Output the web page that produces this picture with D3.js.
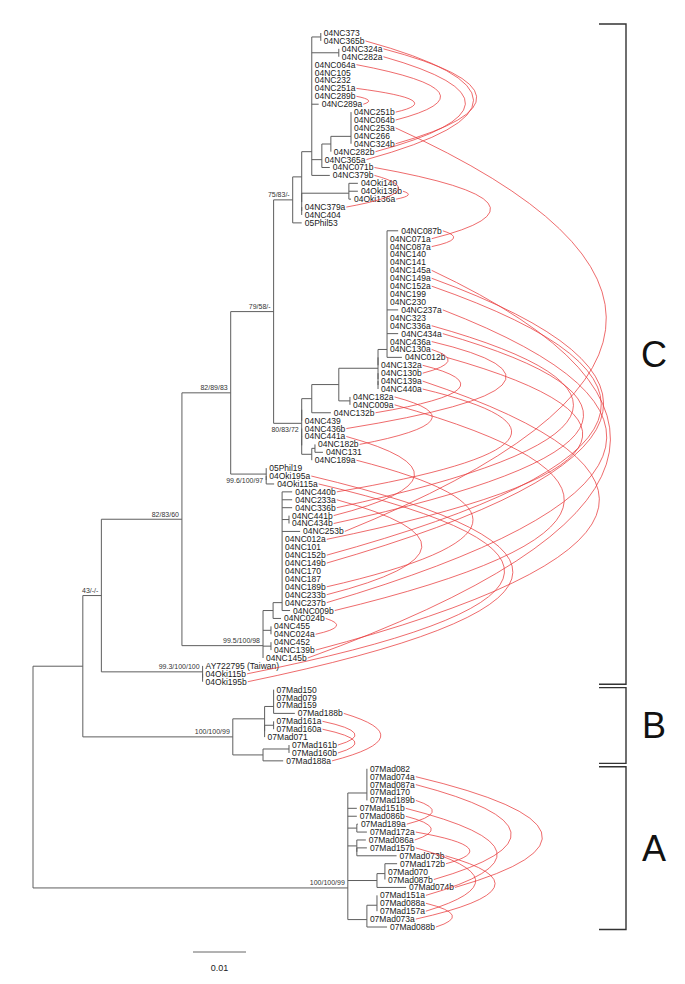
<!DOCTYPE html>
<html><head><meta charset="utf-8">
<script src="https://cdn.jsdelivr.net/npm/d3@7"></script>
<style>html,body{margin:0;padding:0;background:#fff}</style>
</head><body>
<svg id="c" width="685" height="984"></svg>
<script>
// ---------------- DATA ----------------
// Subtrees in Newick form (branch lengths in substitutions/site; internal labels = support values)
const cladeN17 = "(04NC087b:0.0021,04NC071a:0,04NC087a:0,04NC140:0,04NC141:0,04NC145a:0,04NC149a:0,04NC152a:0,04NC199:0,04NC230:0,04NC237a:0.0021,04NC323:0,04NC336a:0,04NC434a:0.0021,04NC436a:0,04NC130a:0,04NC012b:0.0028)";
const cladeN14 = "((" + cladeN17 + ":0.0017,04NC132a:0):0,(04NC130b:0,(04NC139a:0,04NC440a:0):0):0)";
const cladeN12 = "((" + cladeN14 + ":0.0074,(04NC182a:0,04NC009a:0):0.0021):0.0051,04NC132b:0.0036)";
const cladeN15 = "((04NC182b:0,04NC131:0.0015):0.0006,04NC189a:0)";
const cladeN9  = "((" + cladeN12 + ":0.0019,04NC439:0):0,(04NC436b:0,(04NC441a:0," + cladeN15 + ":0.0019):0):0)'80/83/72'";
const cladeQ   = "((04NC251b:0,04NC064b:0,04NC253a:0,04NC266:0,04NC324b:0):0.0038,04NC282b:0)";
const cladeR   = "(" + cladeQ + ":0.0017,04NC365a:0,04NC071b:0.0015)";
const cladeN11 = "((04NC373:0,04NC365b:0):0.0017,(04NC324a:0,04NC282a:0):0.0051,04NC064a:0,04NC105:0,04NC232:0,04NC251a:0,04NC289b:0,04NC289a:0.0013," + cladeR + ":0.0019,04NC379b:0.0034)";
const cladeOki = "(04Oki140:0.0017,04Oki136b:0.0017,04Oki136a:0.0004)";
const cladeN10 = "(" + cladeN11 + ":0.0019,(" + cladeOki + ":0.0089,(04NC379a:0,04NC404:0):0):0)";
const cladeN8  = "(" + cladeN10 + ":0.0017,05Phil53:0.0017)'75/83/-'";
const cladeN6  = "(" + cladeN8 + ":0.0036," + cladeN9 + ":0.0053)'79/58/-'";
const cladeN7  = "(05Phil19:0,(04Oki195a:0,04Oki115a:0.0015):0)'99.6/100/97'";
const cladeN19 = "(04NC440b:0.0019,04NC233a:0.0019,04NC336b:0.0019,(04NC441b:0,04NC434b:0):0.0013,04NC253b:0.0034,04NC012a:0,04NC101:0,04NC152b:0,04NC149b:0,04NC170:0,04NC187:0,04NC189b:0,04NC233b:0,04NC237b:0,04NC009b:0.0015)";
const cladeN5  = "((" + cladeN19 + ":0.0017,04NC024b:0.0015):0.0019,(04NC455:0,04NC024a:0):0.0015,(04NC452:0,04NC139b:0):0.0015,04NC145b:0)'99.5/100/98'";
const cladeN4  = "(" + cladeN6 + ":0.0081," + cladeN7 + ":0.0067)'82/89/83'";
const cladeN3  = "(" + cladeN4 + ":0.0092," + cladeN5 + ":0.0153)'82/83/60'";
const cladeTW  = "('AY722795 (Taiwan)':0,(04Oki115b:0,04Oki195b:0):0)'99.3/100/100'";
const cladeN2  = "(" + cladeN3 + ":0.0152," + cladeTW + ":0.0191)'43/-/-'";
const cladeB   = "(((07Mad150:0,07Mad079:0,07Mad159:0,07Mad188b:0.004):0.0017,((07Mad161a:0,07Mad160a:0):0.0017,07Mad071:0):0):0.006,((07Mad161b:0,07Mad160b:0):0.0049,07Mad188a:0.0038):0.0057)'100/100/99'";
const cladeA   = "((07Mad082:0,07Mad074a:0,07Mad087a:0,07Mad170:0,07Mad189b:0):0.0036,07Mad151b:0.0017,07Mad086b:0.0017,(07Mad189a:0.0002,07Mad172a:0.0019):0.0017,(07Mad086a:0.0017,(07Mad157b:0.0019,07Mad073b:0.0075):0):0.0017,((07Mad172b:0.0023,07Mad070:0,07Mad087b:0):0.0015,07Mad074b:0.0055):0.0055,((07Mad151a:0,07Mad088a:0,07Mad157a:0):0.0019,07Mad073a:0,07Mad088b:0.0038):0.0036)'100/100/99'";
const treeNewick = "((" + cladeN2 + ":0.0035," + cladeB + ":0.0283):0.0094," + cladeA + ":0.0594);";

const supportBelow = ["80/83/72", "99.6/100/97"];
const cladeGroups = [
  {name: "C", first: "04NC373", last: "04Oki195b"},
  {name: "B", first: "07Mad150", last: "07Mad188a"},
  {name: "A", first: "07Mad082", last: "07Mad088b"}
];
const scaleBarValue = 0.01;
const scaleBarLabel = "0.01";

// ---------------- PARSER ----------------
function parseNewick(s) {
  let i = 0;
  function readLabel() {
    if (s[i] === "'") { const j = s.indexOf("'", i + 1); const t = s.slice(i + 1, j); i = j + 1; return t; }
    let j = i; while (j < s.length && !",():;".includes(s[j])) j++;
    const t = s.slice(i, j); i = j; return t;
  }
  function node() {
    const n = {name: "", length: 0, children: []};
    if (s[i] === "(") {
      i++; n.children.push(node());
      while (s[i] === ",") { i++; n.children.push(node()); }
      i++;
    }
    n.name = readLabel();
    if (s[i] === ":") { i++; let j = i; while (j < s.length && !",();".includes(s[j])) j++; n.length = +s.slice(i, j); i = j; }
    return n;
  }
  return node();
}

// ---------------- LAYOUT ----------------
const svg = d3.select("#c");
const root = d3.hierarchy(parseNewick(treeNewick), d => d.children.length ? d.children : null);
const x = d3.scaleLinear().domain([0, scaleBarValue]).range([33, 86]);
root.each(n => { n.len = n.parent ? n.parent.len + n.data.length : 0; n.px = x(n.len); });
const leaves = root.leaves();
const y = d3.scaleLinear().domain([0, leaves.length - 1]).range([33, 927]);
leaves.forEach((l, i) => l.py = y(i));
root.eachAfter(n => {
  if (n.children) {
    let v = n.children[0].py;
    for (let k = 1; k < n.children.length; k++) v = (v + n.children[k].py) / 2;
    n.py = v;
  }
});

// ---------------- BRANCHES ----------------
const gb = svg.append("g").attr("stroke", "#5e5e5e").attr("stroke-width", 1).attr("fill", "none");
root.descendants().forEach(n => {
  if (n.children) {
    const ys = n.children.map(c => c.py);
    const y0 = d3.min(ys), y1 = d3.max(ys);
    if (y1 - y0 > 0.1) gb.append("line").attr("x1", n.px).attr("x2", n.px).attr("y1", y0).attr("y2", y1);
  }
  if (n.parent && n.px - n.parent.px > 0.5) {
    gb.append("line").attr("x1", n.parent.px).attr("x2", n.px).attr("y1", n.py).attr("y2", n.py);
  }
});

// ---------------- SUPPORT LABELS ----------------
const gs = svg.append("g").attr("font-family", "'Liberation Sans', Arial, sans-serif").attr("font-size", 7).attr("fill", "#333").attr("text-anchor", "end");
root.descendants().filter(n => n.children && n.data.name).forEach(n => {
  const below = supportBelow.includes(n.data.name);
  gs.append("text").attr("x", n.px - 3).attr("y", below ? n.py + 8.5 : n.py - 2.5).text(n.data.name);
});

// ---------------- LEAF LABELS ----------------
const gl = svg.append("g").attr("font-family", "'Liberation Sans', Arial, sans-serif").attr("font-size", 8.5).attr("fill", "#1a1a1a");
leaves.forEach(l => {
  const t = gl.append("text").attr("x", l.px + 3).attr("y", l.py).attr("dy", "0.35em").text(l.data.name);
  l.textEnd = l.px + 3 + t.node().getComputedTextLength();
});

// ---------------- HAPLOTYPE LINKS (a/b of the same individual) ----------------
const byName = new Map(leaves.map(l => [l.data.name, l]));
const pairs = [];
leaves.forEach(l => {
  const m = l.data.name.match(/^(.*)a$/);
  if (m && byName.has(m[1] + "b")) pairs.push([l, byName.get(m[1] + "b")]);
});
const reachLimit = 607;
const gc = svg.append("g").attr("stroke", "#e8393b").attr("stroke-width", 0.75).attr("fill", "none");
pairs.forEach(([a, b]) => {
  const x1 = a.textEnd + 1, y1 = a.py, x2 = b.textEnd + 1, y2 = b.py;
  const gap = Math.abs(y2 - y1), xm = Math.max(x1, x2);
  const raw = 0.6 * gap * (1 + gap / 120);
  const room = reachLimit - xm;
  const tip = xm + room * (1 - Math.exp(-raw / room));
  const cx = 2 * tip - (x1 + x2) / 2, cy = (y1 + y2) / 2;
  const p = d3.path(); p.moveTo(x1, y1); p.quadraticCurveTo(cx, cy, x2, y2);
  gc.append("path").attr("d", p.toString());
});

// ---------------- CLADE BRACKETS ----------------
const gk = svg.append("g");
cladeGroups.forEach((c, i) => {
  const top = byName.get(c.first).py - (i === 0 ? 9 : 2);
  const bot = byName.get(c.last).py + 2.5;
  const bx = 626, tx = 599;
  gk.append("path").attr("d", `M${tx},${top}H${bx}V${bot}H${tx}`).attr("fill", "none").attr("stroke", "#333").attr("stroke-width", 1.4);
  gk.append("text").attr("x", 654).attr("y", (top + bot) / 2).attr("dy", "0.36em").attr("text-anchor", "middle")
    .attr("font-family", "'Liberation Sans', Arial, sans-serif").attr("font-size", 36).attr("fill", "#111").text(c.name);
});

// ---------------- SCALE BAR ----------------
const sbx = 193, sby = 952;
svg.append("line").attr("x1", sbx).attr("x2", sbx + x(scaleBarValue) - x(0)).attr("y1", sby).attr("y2", sby).attr("stroke", "#666").attr("stroke-width", 1);
svg.append("text").attr("x", sbx + (x(scaleBarValue) - x(0)) / 2).attr("y", sby + 19).attr("text-anchor", "middle")
  .attr("font-family", "'Liberation Sans', Arial, sans-serif").attr("font-size", 9).attr("fill", "#222").text(scaleBarLabel);
</script>
</body></html>
